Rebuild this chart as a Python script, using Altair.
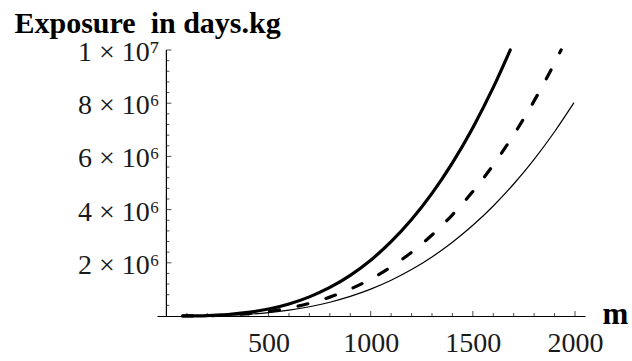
import altair as alt
import pandas as pd

# ---- data ----
m_thick = [80, 100, 200, 300, 400, 500, 600, 700, 800, 900, 1000, 1100, 1200,
           1300, 1400, 1500, 1600, 1683]
e_thick = [1074, 2098, 16780, 56650, 134300, 262300, 453200, 719600, 1074000,
           1529000, 2098000, 2792000, 3625000, 4609000, 5757000, 7081000,
           8593000, 10000000]

m_dash = [80, 100, 200, 300, 400, 500, 600, 700, 800, 900, 1000, 1100, 1200,
          1300, 1400, 1500, 1600, 1700, 1800, 1900, 1932]
e_dash = [710, 1387, 11090, 37440, 88750, 173300, 299500, 475600, 710000,
          1011000, 1387000, 1846000, 2396000, 3047000, 3805000, 4680000,
          5680000, 6813000, 8087000, 9511000, 10000000]

m_thin = [80, 100, 200, 300, 400, 500, 600, 700, 800, 900, 1000, 1100, 1200,
          1300, 1400, 1500, 1600, 1700, 1800, 1900, 1995]
e_thin = [517, 1010, 8080, 27270, 64640, 126300, 218200, 346400, 517100,
          736300, 1010000, 1344000, 1745000, 2219000, 2771000, 3409000,
          4137000, 4962000, 5890000, 6927000, 8020000]

x_major = [500, 1000, 1500, 2000]
x_minor = [100, 200, 300, 400, 600, 700, 800, 900, 1100, 1200, 1300, 1400,
           1600, 1700, 1800, 1900]
y_major = [2000000, 4000000, 6000000, 8000000, 10000000]
y_minor = [400000, 800000, 1200000, 1600000, 2400000, 2800000, 3200000,
           3600000, 4400000, 4800000, 5200000, 5600000, 6400000, 6800000,
           7200000, 7600000, 8400000, 8800000, 9200000, 9600000]

x_domain = [-46, 2049]
y_domain = [0, 10000000]

FONT = "Liberation Serif"
W, H = 428, 266

xs = alt.Scale(domain=x_domain, nice=False, zero=False)
ys = alt.Scale(domain=y_domain, nice=False, zero=False)

x_axis = alt.Axis(
    values=x_major, title="m",
    labelExpr="datum.value",
)
y_axis = alt.Axis(
    values=y_major, title="Exposure\u00a0 in days.kg",
    labelExpr="datum.value == 10000000 ? '1 × 10⁷' : (datum.value / 1000000) + ' × 10⁶'",
)

X = alt.X("m:Q", scale=xs, axis=x_axis)
Y = alt.Y("e:Q", scale=ys, axis=y_axis)

df_thick = pd.DataFrame({"m": m_thick, "e": e_thick})
df_dash = pd.DataFrame({"m": m_dash, "e": e_dash})
df_thin = pd.DataFrame({"m": m_thin, "e": e_thin})

thin = alt.Chart(df_thin).mark_line(
    color="black", strokeWidth=1.2, interpolate="monotone", clip=False
).encode(x=X, y=Y)
thick = alt.Chart(df_thick).mark_line(
    color="black", strokeWidth=3.2, interpolate="monotone", strokeCap="round"
).encode(x=X, y=Y)
dash = alt.Chart(df_dash).mark_line(
    color="black", strokeWidth=3.2, interpolate="monotone", strokeCap="round",
    strokeDash=[10, 19]
).encode(x=X, y=Y)

# y axis line at m = 0
y_line = alt.Chart(pd.DataFrame({"m": [0], "e": [y_domain[0]], "hi": [y_domain[1]]})).mark_rule(
    color="black", strokeWidth=1.2
).encode(x=X, y=Y, y2="hi:Q")

# inward ticks
xmaj = alt.Chart(pd.DataFrame({"m": x_major, "e": [0] * len(x_major)})).mark_tick(
    orient="vertical", size=5, thickness=1, color="black", yOffset=-2.5
).encode(x=X, y=Y)
xmin = alt.Chart(pd.DataFrame({"m": x_minor, "e": [0] * len(x_minor)})).mark_tick(
    orient="vertical", size=3, thickness=1, color="black", yOffset=-1.5
).encode(x=X, y=Y)
ymaj = alt.Chart(pd.DataFrame({"e": y_major, "m": [0] * len(y_major)})).mark_tick(
    orient="horizontal", size=5, thickness=1, color="black", xOffset=2.5
).encode(x=X, y=Y)
ymin = alt.Chart(pd.DataFrame({"e": y_minor, "m": [0] * len(y_minor)})).mark_tick(
    orient="horizontal", size=3, thickness=1, color="black", xOffset=1.5
).encode(x=X, y=Y)

chart = alt.layer(thin, thick, dash, y_line, xmaj, xmin, ymaj, ymin).properties(
    width=W, height=H,
    padding={"left": 157, "top": 50, "right": 47, "bottom": 45},
    autosize=alt.AutoSizeParams(type="none"),
    background="white",
).configure_view(
    stroke=None
).configure_axisX(
    grid=False, ticks=False, domain=True, domainColor="black",
    domainWidth=1.2, labelFont=FONT, labelFontSize=28, labelColor="#1a1a1a",
    labelBaseline="alphabetic", labelPadding=35, labelAlign="center",
    titleFont=FONT, titleFontSize=31, titleFontWeight="bold",
    titleColor="black", titleAlign="left", titleBaseline="alphabetic",
    titleX=445, titleY=7, titleAngle=0,
).configure_axisY(
    grid=False, ticks=False, domain=False,
    labelFont=FONT, labelFontSize=28, labelColor="#1a1a1a",
    labelBaseline="alphabetic", labelOffset=10.5, labelPadding=-2,
    titleFont=FONT, titleFontSize=30,
    titleFontWeight="bold", titleColor="black", titleAngle=0,
    titleAlign="left", titleBaseline="alphabetic", titleX=-143, titleY=-18,
)

chart.save("out.html", embed_options={"renderer": "svg", "actions": False})
